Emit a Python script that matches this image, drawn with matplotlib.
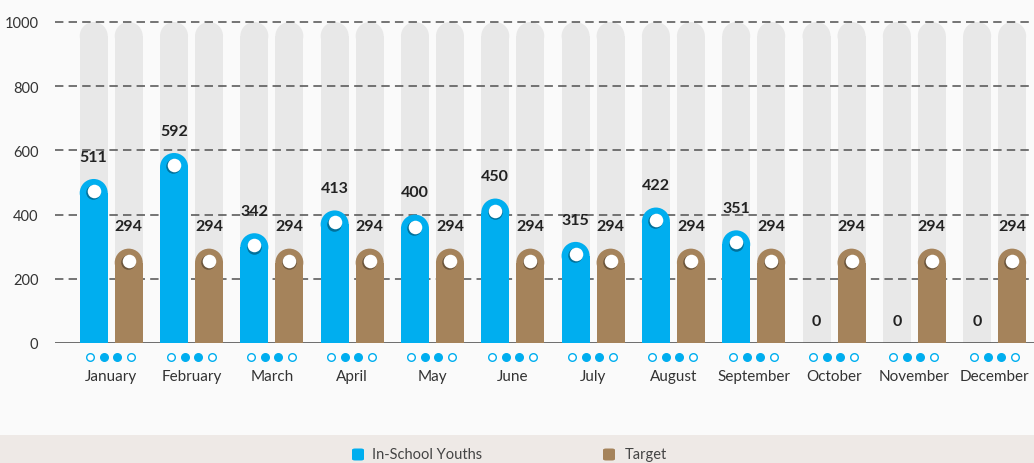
import matplotlib
matplotlib.use("Agg")
import matplotlib.pyplot as plt
from matplotlib.patches import Rectangle, Ellipse, FancyBboxPatch

months = ["January", "February", "March", "April", "May", "June", "July",
          "August", "September", "October", "November", "December"]
youths = [511, 592, 342, 413, 400, 450, 315, 422, 351, 0, 0, 0]
target = [294, 294, 294, 294, 294, 294, 294, 294, 294, 294, 294, 294]
yticks = [0, 200, 400, 600, 800, 1000]
series_names = ["In-School Youths", "Target"]

BLUE = "#00AEEF"
BROWN = "#A5835B"
GRAY = "#E8E8E8"
BG = "#FAFAFA"
TXT = "#333333"

W, H = 1034, 464
fig = plt.figure(figsize=(W / 100, H / 100), dpi=100, facecolor=BG)
ax_l, ax_b, ax_w, ax_h = 55, 120, 979, 321
ax = fig.add_axes([ax_l / W, ax_b / H, ax_w / W, ax_h / H])
ax.set_facecolor(BG)
ax.set_xlim(-0.70, 11.49)
ax.set_ylim(0, 1000)

px_x = ax_w / (11.49 + 0.70)   # px per x unit
px_y = ax_h / 1000.0           # px per y unit
bw = 28 / px_x
off = 17.5 / px_x
r_y = (bw * px_x / 2) / px_y   # cap radius in y units

FONT = ["Lato", "DejaVu Sans"]


def rounded_bar(x, h, color, z):
    if h <= 0:
        return
    hr = min(r_y, h)
    ax.add_patch(Rectangle((x - bw / 2, 0), bw, h - hr, facecolor=color,
                           edgecolor="none", zorder=z, clip_on=False))
    ax.add_patch(Ellipse((x, h - hr), bw, 2 * hr, facecolor=color,
                         edgecolor="none", zorder=z, clip_on=False))


# background tracks
for i in range(len(months)):
    for dx in (-off, off):
        rounded_bar(i + dx, yticks[-1], GRAY, 1)

# grid
for t in yticks[1:]:
    ax.axhline(t, color="#505050", lw=1.1, dashes=(5.5, 3.4), zorder=2,
               clip_on=False)
ax.axhline(0, color="#555555", lw=1.2, zorder=2)

# value bars
for i, (yv, tv) in enumerate(zip(youths, target)):
    rounded_bar(i - off, yv, BLUE, 3)
    rounded_bar(i + off, tv, BROWN, 3)
    for x, v in ((i - off, yv), (i + off, tv)):
        if v > 0:
            cy = v - 12 / px_y
            ax.scatter([x - 0.7 / px_x], [cy - 1.3 / px_y], s=110, color="#000000",
                       alpha=0.35, zorder=4, linewidths=0, clip_on=False)
            ax.scatter([x], [cy], s=95, color="white", zorder=5,
                       linewidths=0, clip_on=False)
        ax.annotate(str(v), (x, v), xytext=(0, 16), textcoords="offset points",
                    ha="center", va="center", fontsize=11.5, fontweight="bold",
                    color="#222222", family=FONT, zorder=6, annotation_clip=False)
    # indicator dots
    for k, dxp in enumerate((-21, -7, 6, 20)):
        filled = k in (1, 2)
        ax.scatter([i + dxp / px_x], [-14 / px_y], s=30,
                   facecolor=BLUE if filled else "white", edgecolor=BLUE,
                   linewidths=1.0, zorder=5, clip_on=False)
    ax.text(i, -33 / px_y, months[i], ha="center", va="center", fontsize=11,
            color=TXT, family=FONT, clip_on=False)

ax.set_yticks(yticks)
ax.set_yticklabels([str(t) for t in yticks], family=FONT, fontsize=10.5,
                   color=TXT)
ax.tick_params(axis="y", length=0, pad=12)
ax.set_xticks([])
for s in ax.spines.values():
    s.set_visible(False)

# legend band
fig.patches.append(Rectangle((0, 0), 1, 28 / H, transform=fig.transFigure,
                             facecolor="#EEE9E6", edgecolor="none", zorder=0))
for (lx, tx), name, col in zip(((352, 372), (603, 625)), series_names,
                               (BLUE, BROWN)):
    fig.patches.append(FancyBboxPatch((lx / W, 2.5 / H), 12 / W, 12 / H,
                                      boxstyle="round,pad=0,rounding_size=0.003",
                                      transform=fig.transFigure,
                                      facecolor=col, edgecolor="none", zorder=2))
    fig.text(tx / W, 8.5 / H, name, ha="left", va="center", fontsize=10.5,
             color="#444444", family=FONT)

fig.savefig("out.png", dpi=100, facecolor=BG)
